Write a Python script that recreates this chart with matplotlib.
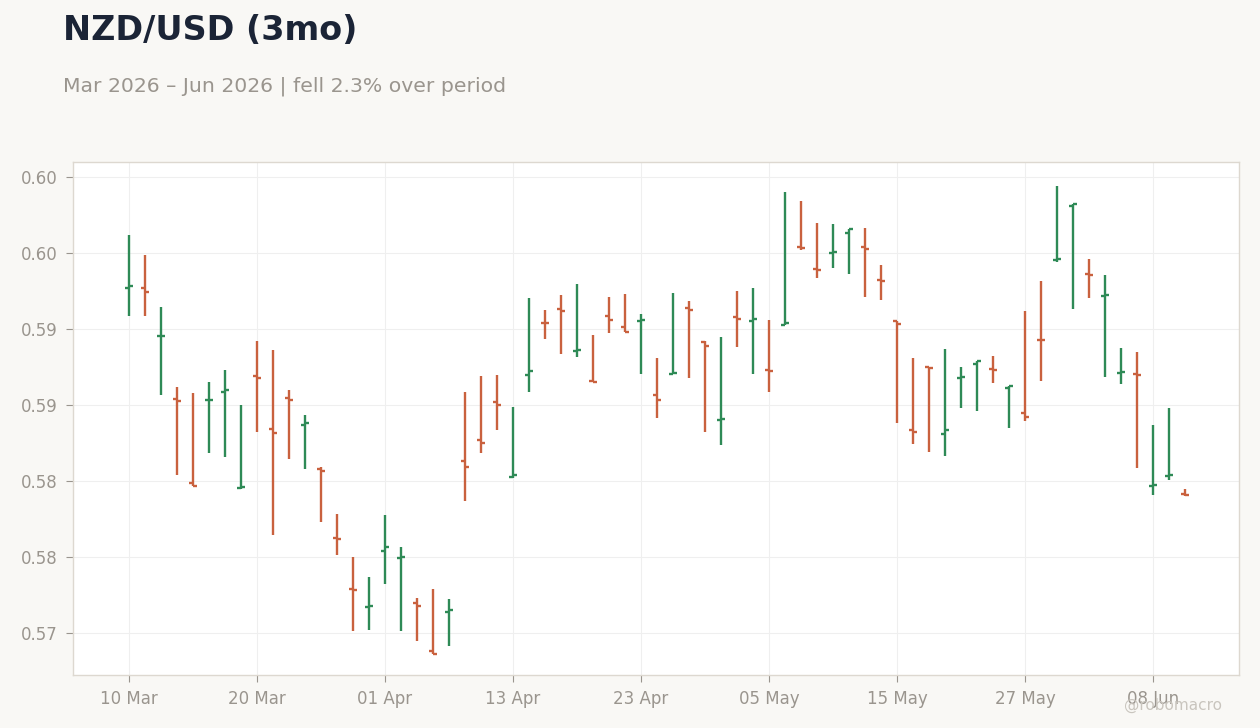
import matplotlib
matplotlib.use("Agg")
import matplotlib.pyplot as plt
import pandas as pd
import numpy as np

plt.rcParams['font.family'] = ['DejaVu Sans']

# ---- data ----
start_date = "2026-03-10"
opens = [0.59270, 0.59267, 0.58951, 0.58543, 0.57984, 0.58530, 0.58583, 0.57951, 0.58688, 0.58344,
         0.58548, 0.58366, 0.58079, 0.57624, 0.57287, 0.57170, 0.57537, 0.57497, 0.57195, 0.56879,
         0.57136, 0.58129, 0.58267, 0.58517, 0.58028, 0.58699, 0.59043, 0.59134, 0.58857, 0.58660,
         0.59083, 0.59011, 0.59050, 0.58563, 0.58706, 0.59136, 0.58918, 0.58403, 0.59079, 0.59055,
         0.58728, 0.59024, 0.59543, 0.59395, 0.59502, 0.59629, 0.59537, 0.59322, 0.59050, 0.58339,
         0.58749, 0.58307, 0.58680, 0.58770, 0.58736, 0.58614, 0.58445, 0.58930, 0.59454, 0.59807,
         0.59361, 0.59219, 0.58712, 0.58703, 0.57967, 0.58030, 0.57916]
highs = [0.59620, 0.59489, 0.59145, 0.58620, 0.58581, 0.58653, 0.58730, 0.58500, 0.58921, 0.58864,
         0.58601, 0.58436, 0.58092, 0.57785, 0.57502, 0.57370, 0.57778, 0.57568, 0.57232, 0.57291,
         0.57226, 0.58588, 0.58693, 0.58699, 0.58489, 0.59206, 0.59127, 0.59226, 0.59298, 0.58962,
         0.59213, 0.59232, 0.59101, 0.58811, 0.59239, 0.59186, 0.58921, 0.58949, 0.59252, 0.59272,
         0.59061, 0.59903, 0.59844, 0.59699, 0.59693, 0.59658, 0.59666, 0.59423, 0.59050, 0.58811,
         0.58749, 0.58870, 0.58752, 0.58789, 0.58824, 0.58625, 0.59120, 0.59318, 0.59943, 0.59822,
         0.59462, 0.59357, 0.58877, 0.58851, 0.58370, 0.58482, 0.57949]
lows = [0.59083, 0.59089, 0.58563, 0.58037, 0.57965, 0.58182, 0.58155, 0.57950, 0.58320, 0.57645,
        0.58142, 0.58079, 0.57728, 0.57511, 0.57011, 0.57017, 0.57320, 0.57011, 0.56945, 0.56864,
        0.56912, 0.57866, 0.58182, 0.58337, 0.58017, 0.58583, 0.58932, 0.58839, 0.58813, 0.58651,
        0.58971, 0.58982, 0.58701, 0.58418, 0.58704, 0.58675, 0.58320, 0.58234, 0.58879, 0.58701,
        0.58589, 0.59024, 0.59520, 0.59333, 0.59399, 0.59359, 0.59214, 0.59188, 0.58385, 0.58247,
        0.58188, 0.58168, 0.58478, 0.58464, 0.58642, 0.58346, 0.58392, 0.58655, 0.59438, 0.59129,
        0.59201, 0.58682, 0.58636, 0.58083, 0.57905, 0.58004, 0.57903]
closes = [0.59280, 0.59247, 0.58956, 0.58528, 0.57969, 0.58535, 0.58596, 0.57958, 0.58680, 0.58313,
          0.58535, 0.58379, 0.58063, 0.57620, 0.57280, 0.57176, 0.57563, 0.57502, 0.57180, 0.56864,
          0.57149, 0.58094, 0.58252, 0.58502, 0.58043, 0.58721, 0.59037, 0.59120, 0.58859, 0.58653,
          0.59061, 0.58982, 0.59057, 0.58535, 0.58711, 0.59127, 0.58886, 0.58405, 0.59068, 0.59063,
          0.58726, 0.59037, 0.59535, 0.59386, 0.59506, 0.59656, 0.59524, 0.59318, 0.59035, 0.58324,
          0.58745, 0.58333, 0.58684, 0.58787, 0.58732, 0.58625, 0.58423, 0.58925, 0.59458, 0.59820,
          0.59357, 0.59226, 0.58716, 0.58699, 0.57971, 0.58037, 0.57905]
y_ticks = [0.570, 0.575, 0.580, 0.585, 0.590, 0.595, 0.600]
y_tick_labels = ["0.57", "0.58", "0.58", "0.59", "0.59", "0.60", "0.60"]
x_tick_step = 8

title = "NZD/USD (3mo)"
subtitle = "Mar 2026 – Jun 2026 | fell 2.3% over period"
watermark = "@robomacro"

# ---- style ----
UP = "#2e8a56"
DOWN = "#c9613e"
BG = "#f9f8f5"
GRID = "#efefef"
SPINE = "#ddd8d0"
TXT = "#9a958e"

dates = pd.bdate_range(start_date, periods=len(opens))
x = np.arange(len(opens))

fig = plt.figure(figsize=(12.6, 7.28), dpi=100, facecolor=BG)
ax = fig.add_axes([73/1260, 1-675/728, (1239-73)/1260, (675-162)/728])
ax.set_facecolor("white")

tw = 0.28
lw = 1.7
for i in x:
    o, h, l, c = opens[i], highs[i], lows[i], closes[i]
    col = UP if c >= o else DOWN
    ax.plot([i, i], [l, h], color=col, lw=lw, solid_capstyle="butt", zorder=3)
    ax.plot([i - tw, i], [o, o], color=col, lw=lw, solid_capstyle="butt", zorder=3)
    ax.plot([i, i + tw], [c, c], color=col, lw=lw, solid_capstyle="butt", zorder=3)

ax.set_xlim(-3.5, 69.375)
ax.set_ylim(0.56724, 0.60099)
ax.set_yticks(y_ticks)
ax.set_yticklabels(y_tick_labels)
xt = x[::x_tick_step]
ax.set_xticks(xt)
ax.set_xticklabels([dates[i].strftime("%d %b") for i in xt])

ax.grid(True, color=GRID, lw=0.8, zorder=0)
ax.set_axisbelow(True)
for s in ax.spines.values():
    s.set_color(SPINE)
    s.set_linewidth(1.0)
ax.tick_params(axis="both", colors="#9a958e", labelsize=12, length=5, width=0.8)
ax.tick_params(axis="x", pad=6)
ax.tick_params(axis="y", pad=6)
for lab in ax.get_xticklabels() + ax.get_yticklabels():
    lab.set_color(TXT)

fig.text(63/1260, 1-31/728, title, fontsize=24, fontweight="bold", color="#1b2436",
         ha="left", va="center")
fig.text(63/1260, 1-86/728, subtitle, fontsize=14.7, color="#9a958e",
         ha="left", va="center")
fig.text(1222/1260, 1-705/728, watermark, fontsize=11, color="#c9c5be",
         ha="right", va="center")

fig.savefig("out.png", dpi=100, facecolor=BG)
